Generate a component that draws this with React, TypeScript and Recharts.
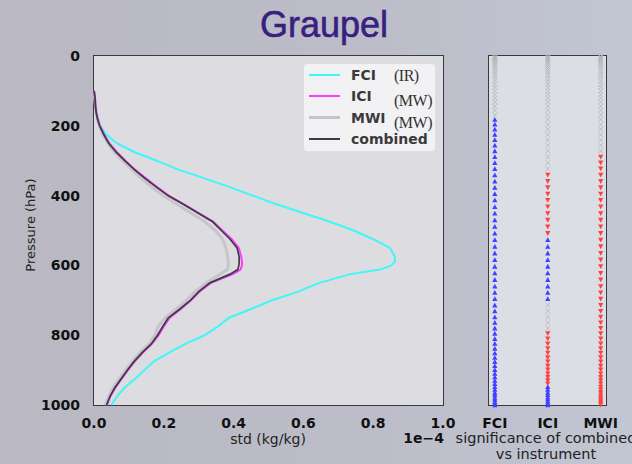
import React from 'react';
import { LineChart, Line, XAxis, YAxis, ScatterChart, Scatter } from 'recharts';

const pressure = [100, 120, 140, 160, 180, 200, 225, 250, 275, 300, 325, 350, 375, 400, 425, 450, 475, 500, 525, 550, 575, 590, 600, 612, 625, 650, 675, 700, 725, 750, 775, 800, 825, 850, 875, 900, 925, 950, 975, 1000];
const fciStd = [0, 0.002, 0.004, 0.007, 0.012, 0.018, 0.035, 0.065, 0.115, 0.18, 0.24, 0.315, 0.387, 0.455, 0.523, 0.6, 0.676, 0.744, 0.8, 0.848, 0.862, 0.862, 0.852, 0.82, 0.735, 0.645, 0.585, 0.51, 0.45, 0.387, 0.355, 0.318, 0.262, 0.215, 0.172, 0.145, 0.118, 0.088, 0.066, 0.05];
const iciStd = [0, 0.003, 0.004, 0.006, 0.01, 0.017, 0.029, 0.044, 0.065, 0.09, 0.117, 0.148, 0.18, 0.214, 0.258, 0.3, 0.342, 0.368, 0.395, 0.415, 0.422, 0.424, 0.424, 0.42, 0.398, 0.335, 0.303, 0.278, 0.249, 0.217, 0.2, 0.185, 0.166, 0.14, 0.117, 0.097, 0.079, 0.061, 0.047, 0.037];
const mwiStd = [0, 0.002, 0.004, 0.006, 0.01, 0.015, 0.025, 0.04, 0.058, 0.082, 0.108, 0.135, 0.165, 0.198, 0.238, 0.278, 0.318, 0.348, 0.368, 0.378, 0.383, 0.385, 0.385, 0.382, 0.362, 0.322, 0.29, 0.265, 0.236, 0.205, 0.184, 0.175, 0.157, 0.132, 0.11, 0.09, 0.072, 0.055, 0.042, 0.032];
const combinedStd = [0, 0.003, 0.004, 0.006, 0.01, 0.016, 0.028, 0.042, 0.063, 0.088, 0.115, 0.145, 0.178, 0.212, 0.256, 0.298, 0.34, 0.365, 0.39, 0.41, 0.416, 0.416, 0.415, 0.412, 0.39, 0.332, 0.3, 0.276, 0.246, 0.213, 0.197, 0.182, 0.164, 0.138, 0.115, 0.096, 0.078, 0.06, 0.046, 0.036];

const stdTicks = [0, 0.2, 0.4, 0.6, 0.8, 1.0];
const pressureTicks = [0, 200, 400, 600, 800, 1000];

// significance levels (model levels, hPa)
const sigLevels = [1, 2, 4, 6, 9, 12, 16, 20, 25, 30, 36, 42, 49, 56, 64, 72, 81, 90, 100, 110, 121, 132, 144, 156, 169, 182, 196, 210, 225, 240, 256, 272, 289, 306, 323, 341, 359, 377, 395, 413, 432, 451, 470, 489, 508, 527, 546, 565, 584, 603, 622, 641, 660, 678, 696, 714, 731, 748, 764, 780, 795, 810, 824, 838, 851, 864, 876, 888, 899, 910, 920, 930, 939, 948, 956, 964, 971, 978, 984, 990, 995, 1000];
const instruments = ['FCI', 'ICI', 'MWI'];
// [result, from hPa, to hPa]
const fciSig: [string, number, number][] = [['none', 0, 170], ['up', 170, 1000]];
const iciSig: [string, number, number][] = [['none', 0, 330], ['down', 330, 518], ['up', 518, 705], ['none', 705, 780], ['down', 780, 946], ['up', 946, 1000]];
const mwiSig: [string, number, number][] = [['none', 0, 275], ['down', 275, 1000]];

const rows = pressure.map((p, i) => ({
  p,
  fci: fciStd[i],
  ici: iciStd[i],
  mwi: mwiStd[i],
  combined: combinedStd[i],
}));

const sigPoints = (kind: string) => {
  const out: { x: number; p: number }[] = [];
  [fciSig, iciSig, mwiSig].forEach((segs, idx) => {
    sigLevels.forEach((p) => {
      const seg = segs.find((s) => p >= s[1] && p <= s[2]);
      if (seg && seg[0] === kind) out.push({ x: idx, p });
    });
  });
  return out;
};

const FONT = "'DejaVu Sans', sans-serif";

const UpMarker = (props: any) => {
  const { cx, cy } = props;
  return <path d={`M${cx - 2.6},${cy + 2.2} L${cx + 2.6},${cy + 2.2} L${cx},${cy - 2.6} Z`} fill="#4040ff" />;
};
const DownMarker = (props: any) => {
  const { cx, cy } = props;
  return <path d={`M${cx - 2.6},${cy - 2.2} L${cx + 2.6},${cy - 2.2} L${cx},${cy + 2.6} Z`} fill="#ff4040" />;
};
const NoneMarker = (props: any) => {
  const { cx, cy } = props;
  return (
    <path
      d={`M${cx - 2.3},${cy - 2.3} L${cx + 2.3},${cy + 2.3} M${cx - 2.3},${cy + 2.3} L${cx + 2.3},${cy - 2.3}`}
      stroke="#b4b4b8"
      strokeWidth={0.8}
    />
  );
};

const legendItems = [
  { name: 'FCI', color: '#3ff7f7', note: '(IR)', w: 2 },
  { name: 'ICI', color: '#ff3cff', note: '(MW)', w: 2 },
  { name: 'MWI', color: '#c4c4c6', note: '(MW)', w: 2.5 },
  { name: 'combined', color: '#3f3b46', note: '', w: 2 },
];

const LegendBox = () => (
  <div
    style={{
      position: 'absolute',
      left: 303,
      top: 63,
      width: 131,
      height: 87,
      background: 'rgba(244,244,246,0.9)',
      border: '1px solid #dedee2',
      borderRadius: 4,
    }}
  >
    {legendItems.map((entry, index) => (
      <div key={`item-${index}`} style={{ position: 'absolute', left: 5, top: 3 + index * 21.3, height: 16, display: 'flex', alignItems: 'center' }}>
        <div style={{ width: 31, height: entry.w, backgroundColor: entry.color, marginRight: 11 }} />
        <span style={{ fontFamily: FONT, fontWeight: 'bold', fontSize: 14, color: '#3a3a3a' }}>{entry.name}</span>
        {entry.note ? (
          <span
            style={{
              position: 'absolute',
              left: 85,
              top: index === 0 ? 0 : 4,
              fontFamily: "'Liberation Serif', serif",
              fontSize: 16,
              color: '#333',
              whiteSpace: 'nowrap',
              letterSpacing: -0.5,
            }}
          >
            {entry.note}
          </span>
        ) : null}
      </div>
    ))}
  </div>
);

const tickStyle = { fontFamily: FONT, fontWeight: 'bold' as const, fontSize: 14, fill: '#111' };

export default function App() {
  return (
    <div
      style={{
        position: 'fixed',
        left: 0,
        top: 0,
        width: 632,
        height: 464,
        overflow: 'hidden',
        background: 'linear-gradient(90deg, #b9b8c3 0%, #bcbdc9 60%, #c2c6d3 100%)',
      }}
    >
      <div
        style={{
          position: 'absolute',
          left: 0,
          width: 632,
          top: 3,
          textAlign: 'center',
          fontFamily: "'Liberation Sans', Arial, sans-serif",
          fontSize: 36,
          color: '#3a1e80',
          lineHeight: '44px',
          paddingLeft: 8,
          WebkitTextStroke: '0.6px #3a1e80',
        }}
      >
        Graupel
      </div>

      {/* left plot frame */}
      <div
        style={{
          position: 'absolute',
          left: 93,
          top: 55,
          width: 351,
          height: 351,
          boxSizing: 'border-box',
          background: '#dcdce1',
          border: '1.5px solid #3a3a3e',
        }}
      />
      <div style={{ position: 'absolute', left: 0, top: 0 }}>
        <LineChart
          width={460}
          height={464}
          layout="vertical"
          data={rows}
          margin={{ top: 56, right: 17, left: 0, bottom: 29 }}
        >
          <XAxis
            type="number"
            dataKey="fci"
            domain={[0, 1]}
            ticks={stdTicks}
            tickFormatter={(v: number) => v.toFixed(1)}
            axisLine={false}
            tickLine={false}
            tickSize={6}
            tickMargin={7}
            height={30}
            tick={tickStyle}
            interval={0}
          />
          <YAxis
            type="number"
            dataKey="p"
            domain={[0, 1000]}
            ticks={pressureTicks}
            axisLine={false}
            tickLine={false}
            tickSize={6}
            tickMargin={8}
            width={94}
            tick={tickStyle}
            interval={0}
          />
          <Line dataKey="fci" stroke="#3ff7f7" strokeWidth={2} dot={false} isAnimationActive={false} />
          <Line dataKey="mwi" stroke="#c6c6c9" strokeWidth={3} dot={false} isAnimationActive={false} />
          <Line dataKey="ici" stroke="#ff3cff" strokeWidth={2} dot={false} isAnimationActive={false} />
          <Line dataKey="combined" stroke="#3f3b46" strokeWidth={1.7} dot={false} isAnimationActive={false} />
        </LineChart>
      </div>
      <LegendBox />
      <div
        style={{
          position: 'absolute',
          left: 30,
          top: 225,
          transform: 'translate(-50%, -50%) rotate(-90deg)',
          fontFamily: FONT,
          fontSize: 13,
          color: '#222',
          whiteSpace: 'nowrap',
        }}
      >
        Pressure (hPa)
      </div>
      <div style={{ position: 'absolute', left: 268, top: 431, transform: 'translateX(-50%)', fontFamily: FONT, fontSize: 14, color: '#222', whiteSpace: 'nowrap' }}>
        std (kg/kg)
      </div>
      <div style={{ position: 'absolute', right: 632 - 444, top: 430, fontFamily: FONT, fontWeight: 'bold', fontSize: 14, color: '#111', whiteSpace: 'nowrap' }}>
        1e−4
      </div>

      {/* right panel */}
      <div
        style={{
          position: 'absolute',
          left: 488,
          top: 55,
          width: 119,
          height: 351,
          boxSizing: 'border-box',
          background: '#dcdee5',
          border: '1.5px solid #3a3a3e',
        }}
      />
      <div style={{ position: 'absolute', left: 460, top: 0 }}>
        <ScatterChart width={172} height={464} margin={{ top: 56, right: 26, left: 29, bottom: 29 }}>
          <XAxis
            type="number"
            dataKey="x"
            domain={[-0.11, 2.1]}
            ticks={[0, 1, 2]}
            tickFormatter={(i: number) => instruments[i]}
            axisLine={false}
            tickLine={false}
            tickSize={6}
            tickMargin={7}
            height={30}
            tick={tickStyle}
            interval={0}
            allowDataOverflow
          />
          <YAxis type="number" dataKey="p" domain={[0, 1000]} reversed hide />
          <Scatter data={sigPoints('none')} shape={<NoneMarker />} isAnimationActive={false} />
          <Scatter data={sigPoints('up')} shape={<UpMarker />} isAnimationActive={false} />
          <Scatter data={sigPoints('down')} shape={<DownMarker />} isAnimationActive={false} />
        </ScatterChart>
      </div>
      <div style={{ position: 'absolute', left: 546, top: 430, transform: 'translateX(-50%)', fontFamily: FONT, fontSize: 14.5, color: '#222', whiteSpace: 'nowrap', textAlign: 'center', lineHeight: '16px' }}>
        significance of combined
        <br />
        vs instrument
      </div>
    </div>
  );
}
